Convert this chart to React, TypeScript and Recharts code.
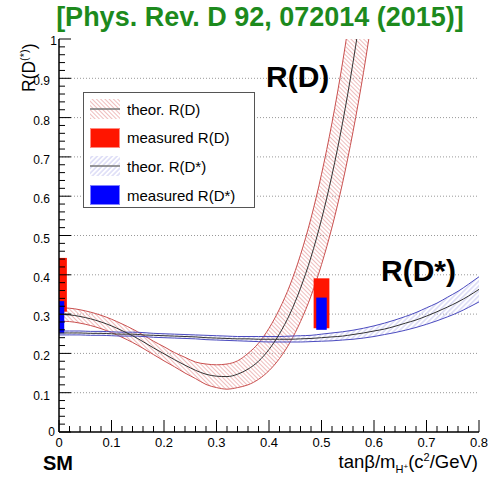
import {
  ComposedChart,
  Area,
  Line,
  XAxis,
  YAxis,
  CartesianGrid,
  ReferenceArea,
} from "recharts";

const FONT = '"Liberation Sans", Arial, Helvetica, sans-serif';

// tanβ/m_H+ grid used by the theory curves
const xs = [
  0, 0.02, 0.04, 0.06, 0.08, 0.1, 0.12, 0.14, 0.16, 0.18, 0.2, 0.22, 0.24,
  0.26, 0.28, 0.3, 0.32, 0.34, 0.36, 0.38, 0.4, 0.42, 0.44, 0.46, 0.48, 0.5,
  0.52, 0.54, 0.56, 0.58, 0.6, 0.62, 0.64, 0.66, 0.68, 0.7, 0.72, 0.74, 0.76,
  0.78, 0.8,
];

// theor. R(D): central value and band edges (0 .. 0.60)
const rdMid = [
  0.299, 0.298, 0.294, 0.288, 0.28, 0.27, 0.258, 0.245, 0.23, 0.214, 0.199,
  0.184, 0.17, 0.157, 0.147, 0.142, 0.141, 0.147, 0.16, 0.18, 0.21, 0.25,
  0.301, 0.366, 0.445, 0.541, 0.654, 0.786, 0.94, 1.116, 1.317,
];
const rdLow = [
  0.282, 0.281, 0.277, 0.271, 0.263, 0.253, 0.241, 0.228, 0.213, 0.197, 0.181,
  0.166, 0.15, 0.136, 0.121, 0.113, 0.109, 0.113, 0.12, 0.134, 0.156, 0.187,
  0.228, 0.281, 0.346, 0.426, 0.521, 0.633, 0.764, 0.915, 1.088,
];
const rdHigh = [
  0.316, 0.315, 0.311, 0.305, 0.297, 0.287, 0.275, 0.262, 0.247, 0.231, 0.217,
  0.202, 0.19, 0.178, 0.173, 0.171, 0.173, 0.181, 0.2, 0.226, 0.264, 0.313,
  0.374, 0.451, 0.544, 0.656, 0.787, 0.939, 1.116, 1.317, 1.546,
];

// theor. R(D*): central value and band edges (0 .. 0.80)
const rdsMid = [
  0.252, 0.252, 0.252, 0.251, 0.251, 0.25, 0.249, 0.249, 0.247, 0.246, 0.245,
  0.244, 0.243, 0.242, 0.24, 0.239, 0.238, 0.237, 0.237, 0.236, 0.236, 0.236,
  0.236, 0.237, 0.238, 0.24, 0.242, 0.244, 0.248, 0.252, 0.257, 0.262, 0.269,
  0.277, 0.285, 0.295, 0.306, 0.318, 0.331, 0.346, 0.363,
];
const rdsLow = [
  0.247, 0.247, 0.247, 0.246, 0.246, 0.245, 0.244, 0.244, 0.243, 0.241, 0.24,
  0.239, 0.238, 0.237, 0.235, 0.234, 0.233, 0.232, 0.231, 0.23, 0.229, 0.229,
  0.229, 0.229, 0.23, 0.231, 0.232, 0.234, 0.236, 0.239, 0.243, 0.248, 0.253,
  0.259, 0.266, 0.274, 0.283, 0.293, 0.304, 0.317, 0.331,
];
const rdsHigh = [
  0.257, 0.257, 0.257, 0.256, 0.256, 0.255, 0.254, 0.254, 0.253, 0.251, 0.25,
  0.249, 0.248, 0.247, 0.246, 0.245, 0.244, 0.243, 0.243, 0.243, 0.243, 0.243,
  0.244, 0.245, 0.246, 0.249, 0.252, 0.255, 0.259, 0.264, 0.27, 0.277, 0.285,
  0.294, 0.304, 0.316, 0.328, 0.343, 0.358, 0.376, 0.395,
];

// measured values (SM point and the 2HDM fit point)
const measX = [0, 0.5];
const rdMeasLow = [0.306, 0.264];
const rdMeasHigh = [0.443, 0.391];
const rdsMeasLow = [0.251, 0.26];
const rdsMeasHigh = [0.333, 0.342];

const xMajor = [0, 0.1, 0.2, 0.3, 0.4, 0.5, 0.6, 0.7, 0.8];
const yMajor = [0, 0.1, 0.2, 0.3, 0.4, 0.5, 0.6, 0.7, 0.8, 0.9, 1];
const gridY = [0.1, 0.2, 0.3, 0.4, 0.5, 0.6, 0.7, 0.8, 0.9];

const xTicks = Array.from({ length: 41 }, (_, i) => +(i * 0.02).toFixed(2));
const yTicks = Array.from({ length: 51 }, (_, i) => +(i * 0.02).toFixed(2));

const data = xs.map((x, i) => ({
  x,
  rd: i < rdMid.length ? rdMid[i] : null,
  rdBand: i < rdMid.length ? [rdLow[i], rdHigh[i]] : null,
  rds: rdsMid[i],
  rdsBand: [rdsLow[i], rdsHigh[i]],
}));

const isMajor = (v: number, list: number[]) =>
  list.some((m) => Math.abs(m - v) < 1e-6);
const fmt = (v: number) => String(+v.toFixed(1));

function XTick({ x, y, payload }: any) {
  const v = payload.value;
  const major = isMajor(v, xMajor);
  return (
    <g>
      <line x1={x} x2={x} y1={y} y2={y - (major ? 12 : 6)} stroke="#000" />
      {major && (
        <text
          x={x}
          y={y + 15}
          textAnchor="middle"
          fontSize={13}
          fontFamily={FONT}
          fill="#000"
        >
          {fmt(v)}
        </text>
      )}
    </g>
  );
}

function YTick({ x, y, payload }: any) {
  const v = payload.value;
  const major = isMajor(v, yMajor);
  let lx = x - 9;
  let ly = y + 7;
  if (v === 1) {
    lx = x - 2;
    ly = y + 6;
  } else if (v === 0) {
    lx = x - 4;
    ly = y + 4;
  }
  return (
    <g>
      <line x1={x} x2={x + (major ? 12 : 6)} y1={y} y2={y} stroke="#000" />
      {major && (
        <text
          x={lx}
          y={ly}
          textAnchor="end"
          fontSize={12}
          fontFamily={FONT}
          fill="#000"
        >
          {fmt(v)}
        </text>
      )}
    </g>
  );
}

const RD_HALF = 0.015;
const RDS_HALF = 0.01;

const legendItems = [
  { label: "theor. R(D)", kind: "band", fill: "url(#hatchRed)" },
  { label: "measured R(D)", kind: "box", fill: "#ff1500", edge: "#ff8a80" },
  { label: "theor. R(D*)", kind: "band", fill: "url(#hatchBlue)" },
  { label: "measured R(D*)", kind: "box", fill: "#0000ff", edge: "#8080ff" },
];

const Hatches = () => (
  <svg width={0} height={0} style={{ position: "absolute" }}>
    <defs>
      <pattern
        id="hatchRed"
        patternUnits="userSpaceOnUse"
        width={3}
        height={3}
        patternTransform="rotate(-45)"
      >
        <line x1={1.5} y1={0} x2={1.5} y2={3} stroke="#e8a0a0" strokeWidth={0.7} />
      </pattern>
      <pattern
        id="hatchBlue"
        patternUnits="userSpaceOnUse"
        width={3.5}
        height={3.5}
        patternTransform="rotate(45)"
      >
        <line x1={1.75} y1={0} x2={1.75} y2={3.5} stroke="#b0b0ea" strokeWidth={0.7} />
      </pattern>
    </defs>
  </svg>
);

const App = () => {
  return (
    <div
      style={{
        position: "absolute",
        left: 0,
        top: 0,
        width: 489,
        height: 483,
        background: "#fff",
      }}
    >
      <Hatches />
      <ComposedChart
        width={489}
        height={483}
        data={data}
        margin={{ top: 39, right: 10, bottom: 21, left: 19 }}
      >
        <CartesianGrid
          horizontal
          vertical={false}
          horizontalValues={gridY}
          stroke="#999"
          strokeDasharray="1 2"
        />
        <XAxis
          type="number"
          dataKey="x"
          domain={[0, 0.8]}
          ticks={xTicks}
          interval={0}
          allowDataOverflow
          height={30}
          tickSize={0}
          tickMargin={0}
          tick={<XTick />}
          tickLine={false}
          axisLine={{ stroke: "#000", strokeWidth: 1.5 }}
        />
        <XAxis
          xAxisId="top"
          orientation="top"
          type="number"
          domain={[0, 0.8]}
          height={0}
          tick={false}
          tickLine={false}
          axisLine={{ stroke: "#777", strokeWidth: 1.2 }}
        />
        <YAxis
          type="number"
          domain={[0, 1]}
          ticks={yTicks}
          interval={0}
          allowDataOverflow
          width={40}
          tickSize={0}
          tickMargin={0}
          tick={<YTick />}
          tickLine={false}
          axisLine={{ stroke: "#000", strokeWidth: 1.5 }}
        />
        <YAxis
          yAxisId="right"
          orientation="right"
          type="number"
          domain={[0, 1]}
          width={0}
          tick={false}
          tickLine={false}
          axisLine={{ stroke: "#888", strokeWidth: 1.5 }}
        />

        <Area
          dataKey="rdBand"
          type="monotone"
          fill="url(#hatchRed)"
          fillOpacity={1}
          stroke="#c9504f"
          strokeWidth={1}
          dot={false}
          activeDot={false}
          isAnimationActive={false}
        />
        <Line
          dataKey="rd"
          type="monotone"
          stroke="#333"
          strokeWidth={1}
          dot={false}
          activeDot={false}
          isAnimationActive={false}
        />
        <Area
          dataKey="rdsBand"
          type="monotone"
          fill="url(#hatchBlue)"
          fillOpacity={1}
          stroke="#4b4bbf"
          strokeWidth={1}
          dot={false}
          activeDot={false}
          isAnimationActive={false}
        />
        <Line
          dataKey="rds"
          type="monotone"
          stroke="#333"
          strokeWidth={1}
          dot={false}
          activeDot={false}
          isAnimationActive={false}
        />

        {measX.map((mx, i) => (
          <ReferenceArea
            key={`rd-${i}`}
            x1={mx - RD_HALF}
            x2={mx + RD_HALF}
            y1={rdMeasLow[i]}
            y2={rdMeasHigh[i]}
            fill="#ff1500"
            fillOpacity={1}
            stroke="none"
            ifOverflow="hidden"
          />
        ))}
        {measX.map((mx, i) => (
          <ReferenceArea
            key={`rds-${i}`}
            x1={mx - RDS_HALF}
            x2={mx + RDS_HALF}
            y1={rdsMeasLow[i]}
            y2={rdsMeasHigh[i]}
            fill="#0000ff"
            fillOpacity={1}
            stroke="none"
            ifOverflow="hidden"
          />
        ))}
      </ComposedChart>

      <svg
        width={489}
        height={483}
        style={{ position: "absolute", left: 0, top: 0, pointerEvents: "none" }}
        fontFamily={FONT}
      >
        <text
          x={260}
          y={26}
          textAnchor="middle"
          fontSize={27}
          fontWeight="bold"
          fill="#1d8a1d"
        >
          [Phys. Rev. D 92, 072014 (2015)]
        </text>
        <text transform="translate(35,92) rotate(-90)" fontSize={17.5} fill="#000">
          R(D
          <tspan dy={-7} fontSize={11}>
            (*)
          </tspan>
          <tspan dy={7} fontSize={17.5}>
            )
          </tspan>
        </text>
        <text x={478} y={468} textAnchor="end" fontSize={18.5} fill="#000">
          tanβ/m
          <tspan dy={5} fontSize={11}>
            H
          </tspan>
          <tspan dy={-4} fontSize={8}>
            +
          </tspan>
          <tspan dy={-1} fontSize={18.5}>
            (c
          </tspan>
          <tspan dy={-7} fontSize={11}>
            2
          </tspan>
          <tspan dy={7} fontSize={18.5}>
            /GeV)
          </tspan>
        </text>
        <text x={43} y={470} fontSize={20} fontWeight="bold" fill="#000">
          SM
        </text>
        <text x={266} y={87} fontSize={30} fontWeight="bold" fill="#000">
          R(D)
        </text>
        <text x={381} y={281} fontSize={30} fontWeight="bold" fill="#000">
          R(D*)
        </text>
      </svg>

      <div
        style={{
          position: "absolute",
          left: 83,
          top: 92,
          width: 170,
          height: 114,
          border: "1px solid #555",
          background: "#fff",
          fontFamily: FONT,
          fontSize: 15,
          color: "#000",
        }}
      >
        {legendItems.map((it, i) => (
          <div
            key={it.label}
            style={{
              position: "absolute",
              left: 6,
              top: 6 + i * 28.7,
              height: 20,
              display: "flex",
              alignItems: "center",
              whiteSpace: "nowrap",
            }}
          >
            <svg width={30} height={20}>
              {it.kind === "band" ? (
                <>
                  <rect x={0} y={0} width={30} height={20} fill={it.fill} />
                  <line x1={0} x2={30} y1={10} y2={10} stroke="#777" strokeWidth={1.5} />
                </>
              ) : (
                <rect
                  x={0.5}
                  y={0.5}
                  width={29}
                  height={19}
                  fill={it.fill}
                  stroke={it.edge}
                  strokeWidth={1}
                />
              )}
            </svg>
            <span style={{ marginLeft: 7 }}>{it.label}</span>
          </div>
        ))}
      </div>
    </div>
  );
};

export default App;
